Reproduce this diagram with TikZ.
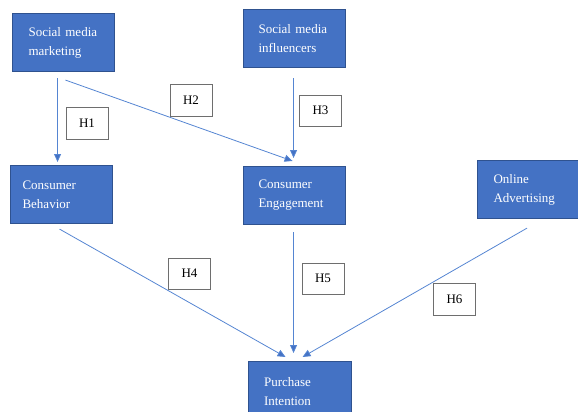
\documentclass[tikz,border=0pt]{standalone}
\usepackage{fontspec}
\setmainfont{Liberation Serif}
\usetikzlibrary{arrows.meta,calc}
\definecolor{boxfill}{HTML}{4472C4}
\definecolor{boxline}{HTML}{2F528F}
\definecolor{arrline}{HTML}{5585D2}
\definecolor{hline}{HTML}{6E6E6E}
\tikzset{
  x=1pt,y=-1pt,
  varbox/.style={draw=boxline,line width=1.1pt,fill=boxfill,text=white,
    minimum width=102pt,minimum height=58pt,anchor=north west,
    text width=78pt,align=left,inner sep=0pt,
    font=\fontsize{13}{19}\selectfont},
  hbox/.style={draw=hline,line width=0.8pt,fill=white,text=black,
    minimum width=42pt,minimum height=31pt,inner sep=0pt,
    font=\fontsize{13}{15}\selectfont},
  arr/.style={draw=arrline,line width=0.8pt,-{Triangle[length=8pt,width=7pt,fill=boxfill]}}
}
\begin{document}
\begin{tikzpicture}
\useasboundingbox (0,0) rectangle (578,412);
\clip (0,0) rectangle (578,412);
% variable boxes
\node[varbox] (smm) at (12,13) {\hspace*{4pt}Social media\\\hspace*{4pt}marketing};
\node[varbox] (smi) at (243,9) {\hspace*{3pt}Social media\\\hspace*{3pt}influencers};
\node[varbox] (cb) at (10,165) {Consumer\\Behavior};
\node[varbox] (ce) at (243,166) {\hspace*{3pt}Consumer\\\hspace*{3pt}Engagement};
\node[varbox,minimum width=106pt] (oa) at (477,160) {\hspace*{2pt}Online\\\hspace*{2pt}Advertising};
\node[varbox,minimum width=103pt,minimum height=60pt] (pi) at (248,361) {\hspace*{3pt}Purchase\\\hspace*{3pt}Intention};
% hypothesis labels
\node[hbox,minimum height=32pt] (h1) at (87,123) {H1};
\node[hbox,minimum height=32pt] (h2) at (191,100) {H2};
\node[hbox] (h3) at (320.5,110.5) {H3};
\node[hbox] (h4) at (189.5,273.5) {H4};
\node[hbox] (h5) at (323,278.5) {H5};
\node[hbox,minimum height=32pt] (h6) at (454.5,299) {H6};
% connectors
\draw[arr] ([shift={(-6,6)}]smm.south) -- ([shift={(-4,-3)}]cb.north);
\draw[arr] ([shift={(2,8)}]smm.south) -- ([shift={(-2,-5)}]ce.north);
\draw[arr] ([shift={(-1,10)}]smi.south) -- ([shift={(-1,-8)}]ce.north);
\draw[arr] ([shift={(-2,5)}]cb.south) -- ([shift={(-14.5,-4)}]pi.north);
\draw[arr] ([shift={(-1,7)}]ce.south) -- ([shift={(-6.5,-8)}]pi.north);
\draw[arr] ([shift={(-3.5,9)}]oa.south) -- ([shift={(2.5,-4)}]pi.north);
\end{tikzpicture}
\end{document}
